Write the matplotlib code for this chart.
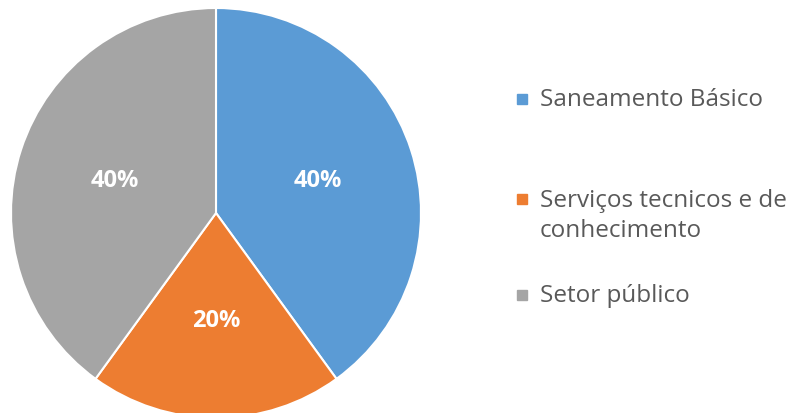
import matplotlib.pyplot as plt
from matplotlib.patches import Rectangle

# Data
labels = ["Saneamento Básico", "Serviços tecnicos e de\nconhecimento", "Setor público"]
shares = [40, 20, 40]
colors = ["#5B9BD5", "#ED7D31", "#A5A5A5"]

W, H = 799, 414
fig = plt.figure(figsize=(W / 100, H / 100), dpi=100)

# pie axes: centre ~ (216, 214) px, radius ~ 205 px
r_px = 205
cx, cy = 216, 214
ax = fig.add_axes([(cx - r_px) / W, (H - cy - r_px) / H, 2 * r_px / W, 2 * r_px / H])
wedges, texts, autotexts = ax.pie(
    shares, colors=colors, startangle=90, counterclock=False,
    autopct="%d%%", pctdistance=0.52,
    wedgeprops=dict(edgecolor="white", linewidth=1.5),
    textprops=dict(color="white", fontsize=17, fontweight="bold", family="Open Sans"))
ax.set_xlim(-1, 1)
ax.set_ylim(-1, 1)
ax.set_aspect("equal")

# legend drawn item by item (uneven spacing like the original)
line_h = 32  # px between wrapped lines
legend_y = [100, 200, 296]  # centre of first line of each entry
for lab, col, y in zip(labels, colors, legend_y):
    n = lab.count("\n")
    fig.patches.append(Rectangle((517 / W, (H - y - 5) / H), 10 / W, 10 / H,
                                 color=col, transform=fig.transFigure))
    yc = y + n * line_h / 2
    fig.text(540 / W, (H - yc) / H, lab, ha="left", va="center", fontsize=17.5,
             color="#595959", family="Open Sans", linespacing=1.36)

plt.savefig("out.png", dpi=100)
plt.close()
